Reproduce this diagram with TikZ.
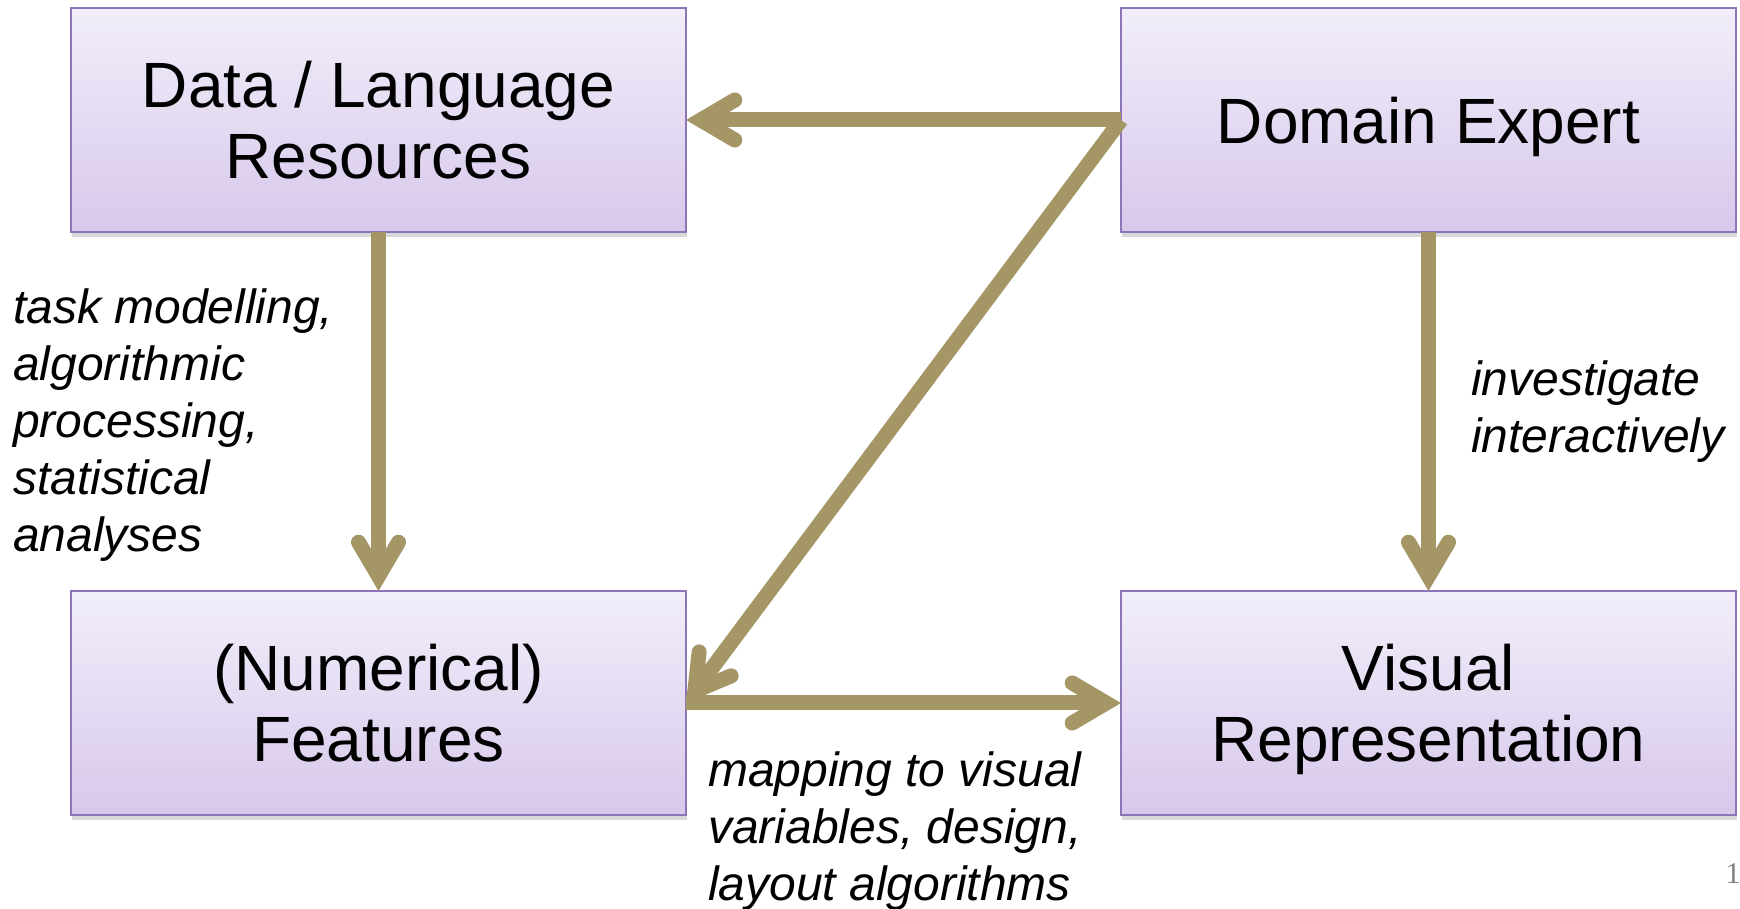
\documentclass[tikz,border=0pt]{standalone}
\usepackage{fontspec}
\setmainfont{Liberation Sans}
\newfontfamily\numfont{Liberation Serif}
\usepackage[dvipsnames]{xcolor}
\definecolor{colorBoxTop}{RGB}{242,238,250}
\definecolor{colorBoxBottom}{RGB}{215,200,235}
\definecolor{colorBoxBorder}{RGB}{140,118,184}
\definecolor{colorFlow}{RGB}{164,150,101}
\usepackage{tikz}
\usetikzlibrary{arrows.meta, positioning, shadows}
\tikzset{stage/.style={draw=colorBoxBorder, line width=2pt, outer sep=0pt,
    top color=colorBoxTop, bottom color=colorBoxBottom,
    minimum width=615pt, minimum height=224pt, align=center, text depth=0pt,
    font=\fontsize{64}{71}\selectfont,
    drop shadow={opacity=0.3, shadow xshift=1pt, shadow yshift=-5pt}}}
\tikzset{flow/.style={colorFlow, line width=15pt,
    -{Straight Barb[length=34pt, width=40pt, line cap=round]}}}
\tikzset{note/.style={align=left, inner sep=0pt, font=\fontsize{48}{57}\selectfont\itshape}}

\begin{document}
\begin{tikzpicture}[x=1pt, y=1pt]
\useasboundingbox (0,0) rectangle (1740,908);
\node[stage] (q0) at (378.5,788) {Data / Language\\Resources};
\node[stage, right=435pt of q0] (q1) {Domain Expert};
\node[stage, below=359pt of q0] (q2) {(Numerical)\\Features};
\node[stage, right=435pt of q2] (q3) {Visual\\Representation};
\draw [flow] (q1) -- (q0);
\draw [flow] (q0) -- (q2);
\draw [flow] (q1) -- (q3);
\draw [flow] (q2) -- (q3);
\draw [flow] (q1.west) -- (q2.east);
\node[note, anchor=north west] (n0) at (13,619) {task modelling,\\algorithmic\\processing,\\statistical\\analyses};
\node[note, anchor=north west] (n1) at (1471,547) {investigate\\interactively};
\node[note, anchor=north west] (n2) at (708,156) {mapping to visual\\variables, design,\\layout algorithms};
\node[text=gray, font=\numfont\fontsize{30}{30}\selectfont, anchor=base] (pg) at (1733,25) {1};
\end{tikzpicture}
\end{document}
